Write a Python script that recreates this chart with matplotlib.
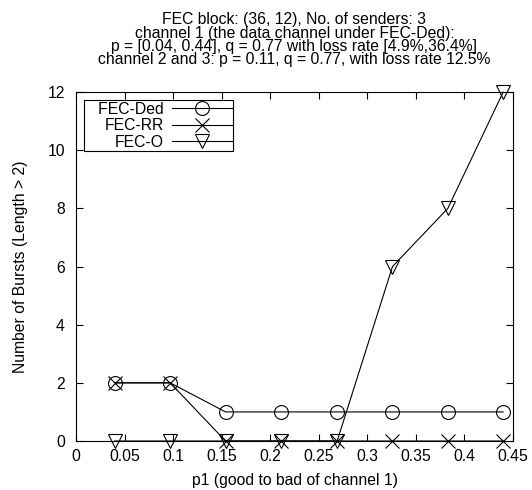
#!/usr/bin/env python
# coding: utf-8

import matplotlib
matplotlib.use('Agg')
import matplotlib.pyplot as plt

plt.rcParams['font.family'] = ['Liberation Sans', 'DejaVu Sans']

p1 = [0.04, 0.097, 0.154, 0.211, 0.269, 0.326, 0.383, 0.44]
fec_ded = [2, 2, 1, 1, 1, 1, 1, 1]
fec_rr = [2, 2, 0, 0, 0, 0, 0, 0]
fec_o = [0, 0, 0, 0, 0, 6, 8, 12]

xticks = [0, 0.05, 0.1, 0.15, 0.2, 0.25, 0.3, 0.35, 0.4, 0.45]
xtick_labels = ['0', '0.05', '0.1', '0.15', '0.2', '0.25', '0.3', '0.35', '0.4', '0.45']
yticks = [0, 2, 4, 6, 8, 10, 12]

title = ('FEC block: (36, 12), No. of senders: 3\n'
         'channel 1 (the data channel under FEC-Ded):\n'
         'p = [0.04, 0.44], q = 0.77 with loss rate [4.9%,36.4%]\n'
         'channel 2 and 3: p = 0.11, q = 0.77, with loss rate 12.5%')

fs = 11.3

fig = plt.figure(figsize=(5.32, 4.9), dpi=100)
ax = fig.add_axes([0.143, 0.1, 0.821, 0.712])

style = dict(color='black', linewidth=0.8, markersize=10, markerfacecolor='none',
             markeredgecolor='black', markeredgewidth=0.8, clip_on=False)
ax.plot(p1, fec_ded, marker='o', label='   FEC-Ded', **style)
ax.plot(p1, fec_rr, marker='x', label='FEC-RR', **style)
ax.plot(p1, fec_o, marker='v', label='FEC-O', **style)

ax.set_xlim(0, 0.45)
ax.set_ylim(0, 12)
ax.set_xticks(xticks)
ax.set_xticklabels(xtick_labels)
ax.set_yticks(yticks)
ax.tick_params(direction='in', top=True, right=True, length=5, width=0.8, labelsize=fs)
ax.tick_params(axis='y', pad=8)
ax.tick_params(axis='x', pad=6)
for s in ax.spines.values():
    s.set_linewidth(0.8)

ax.set_xlabel('p1 (good to bad of channel 1)', fontsize=fs, labelpad=6)
ax.set_ylabel('Number of Bursts (Length > 2)', fontsize=fs, labelpad=14)
ax.set_title(title, fontsize=fs, linespacing=0.86, pad=20)

leg = ax.legend(loc='upper left', fontsize=fs, markerfirst=False, fancybox=False,
                edgecolor='black', framealpha=1, handlelength=3.8, borderpad=0.1,
                labelspacing=0.1, handletextpad=0.5, borderaxespad=0.5)
leg.get_frame().set_linewidth(0.8)
for t in leg.get_texts():
    t.set_ha('right')

fig.savefig('out.png', dpi=100)
